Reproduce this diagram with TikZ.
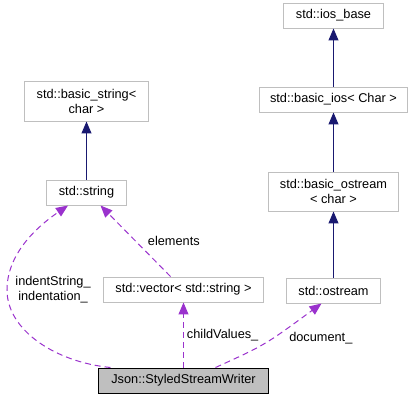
\documentclass[tikz,border=0pt]{standalone}
\usepackage{fontspec}
\setmainfont{Liberation Sans}
\usepackage{tikz}
\usetikzlibrary{arrows.meta,positioning}
\definecolor{dxblue}{HTML}{191970}
\definecolor{dxpurple}{HTML}{9A32CD}
\definecolor{dxgray}{HTML}{BFBFBF}

\begin{document}
\begin{tikzpicture}[x=1bp,y=-1bp,
  cls/.style={draw=dxgray,line width=1bp,fill=white,align=center,
    font=\fontsize{12.8}{15}\selectfont,inner sep=2pt,minimum height=25bp},
  cur/.style={cls,draw=black,fill=dxgray},
  inh/.style={-{Triangle[length=12pt,width=10pt]},line width=1bp,dxblue},
  use/.style={-{Triangle[length=12pt,width=10pt]},line width=1bp,dxpurple,dash pattern=on 6pt off 4pt},
  lbl/.style={font=\fontsize{12.8}{15}\selectfont,text=black,align=center,inner sep=1pt}]
  \useasboundingbox (0,0) rectangle (415,400);
  \node[cur,minimum width=169bp] (writer) at (183.5,380.5) {Json::StyledStreamWriter};
  \node[cls,minimum width=160bp,above=65bp of writer] (vec) {std::vector< std::string >};
  \node[cls,minimum width=79bp] (str) at (86.5,192.5) {std::string};
  \node[cls,minimum width=124bp,minimum height=40bp,above=58bp of str] (bstr) {std::basic\_string<\\char >};
  \node[cls,minimum width=93bp] (ostr) at (333.5,290.5) {std::ostream};
  \node[cls,minimum width=130bp,minimum height=39bp,above=66bp of ostr] (bostr) {std::basic\_ostream\\< char >};
  \node[cls,minimum width=148bp,above=59bp of bostr] (bios) {std::basic\_ios< Char >};
  \node[cls,minimum width=99bp,above=58bp of bios] (iosb) {std::ios\_base};
  % inheritance
  \draw[inh] (str) -- (bstr);
  \draw[inh] (ostr) -- (bostr);
  \draw[inh] (bostr) -- (bios);
  \draw[inh] (bios) -- (iosb);
  % usage
  \draw[use] ([xshift=-13bp]vec.north) -- node[lbl,right=11pt] {elements} ([xshift=14bp]str.south);
  \draw[use] (writer) -- node[lbl,right=2pt] {childValues\_} (vec);
  \draw[use] ([xshift=32bp]writer.north) .. controls (265,345) .. ([xshift=-12bp]ostr.south)
    node[lbl,pos=0.5,anchor=west,xshift=22pt,yshift=4pt] {document\_};
  \draw[use] ([xshift=-73bp]writer.north) .. controls (55,362) and (7,330) .. (7,290)
    node[lbl,anchor=west,xshift=7pt] {indentString\_\\indentation\_}
    .. controls (7,255) and (35,228) .. ([xshift=-18.5bp]str.south);
\end{tikzpicture}
\end{document}
